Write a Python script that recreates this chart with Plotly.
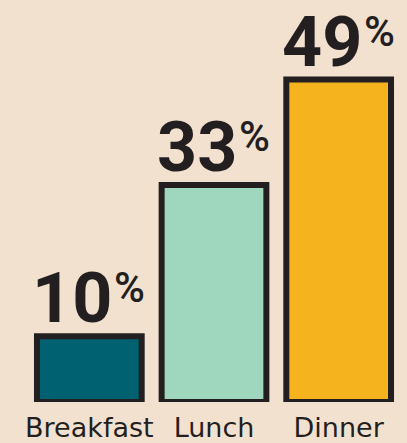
import plotly.graph_objects as go

categories = ["Breakfast", "Lunch", "Dinner"]
values = [10, 33, 49]
colors = ["#006270", "#9fd7be", "#f5b41e"]

BG = "#f3e1d0"
INK = "#231f20"

fig = go.Figure()
fig.add_trace(go.Bar(
    x=categories, y=values,
    marker=dict(color=colors, line=dict(color=INK, width=6)),
    hoverinfo="skip",
))

for c, v in zip(categories, values):
    fig.add_annotation(x=c, y=v, text=str(v), showarrow=False,
                       xanchor="right", yanchor="bottom", xshift=25, yshift=-5,
                       font=dict(family="Roboto", size=70, color=INK, weight="bold"))
    fig.add_annotation(x=c, y=v, text="%", showarrow=False,
                       xanchor="left", yanchor="bottom", xshift=23, yshift=22,
                       font=dict(family="Roboto", size=42, color=INK, weight=500))

fig.update_layout(
    width=407, height=443,
    margin=dict(l=27, r=6, t=0, b=38),
    paper_bgcolor=BG, plot_bgcolor=BG,
    bargap=0.16,
    showlegend=False,
    xaxis=dict(showgrid=False, zeroline=False, showline=False, ticks="",
               tickfont=dict(family="DejaVu Sans", size=27, color=INK),
               ticklabelstandoff=7,
               range=[-0.5, 2.5]),
    yaxis=dict(visible=False, range=[0, 61.1]),
)

fig.write_html("out.html")
